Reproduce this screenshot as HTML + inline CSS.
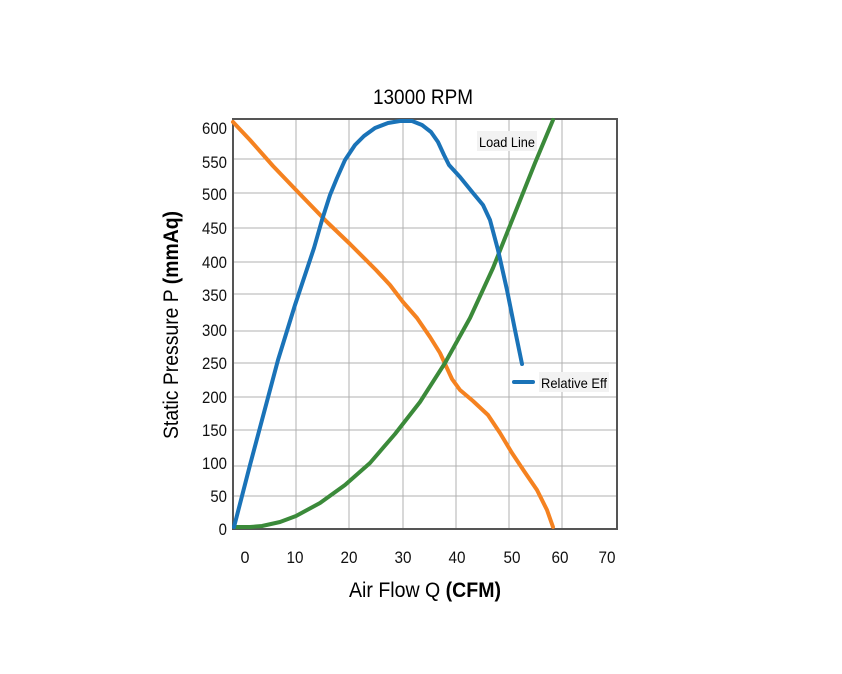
<!DOCTYPE html>
<html><head><style>body{margin:0;background:#fff}svg{display:block}</style></head><body>
<svg width="842" height="674" xmlns="http://www.w3.org/2000/svg" font-family="Liberation Sans, sans-serif">
<rect width="842" height="674" fill="#fff"/>
<g stroke="#b0b0b0" stroke-width="1">
<line x1="296" y1="119" x2="296" y2="529"/><line x1="349" y1="119" x2="349" y2="529"/><line x1="403" y1="119" x2="403" y2="529"/><line x1="456" y1="119" x2="456" y2="529"/><line x1="509" y1="119" x2="509" y2="529"/><line x1="562" y1="119" x2="562" y2="529"/>
<line x1="233" y1="159" x2="617" y2="159"/><line x1="233" y1="193" x2="617" y2="193"/><line x1="233" y1="228" x2="617" y2="228"/><line x1="233" y1="262" x2="617" y2="262"/><line x1="233" y1="294" x2="617" y2="294"/><line x1="233" y1="331" x2="617" y2="331"/><line x1="233" y1="363" x2="617" y2="363"/><line x1="233" y1="397" x2="617" y2="397"/><line x1="233" y1="430" x2="617" y2="430"/><line x1="233" y1="466" x2="617" y2="466"/><line x1="233" y1="496" x2="617" y2="496"/>
</g>
<rect x="233" y="119" width="384" height="410" fill="none" stroke="#555" stroke-width="2"/>
<g font-size="17" fill="#111" text-anchor="end" transform="translate(227,0) scale(0.88,1)">
<text x="0" y="134">600</text><text x="0" y="168">550</text><text x="0" y="200">500</text><text x="0" y="234">450</text><text x="0" y="268">400</text><text x="0" y="301">350</text><text x="0" y="336">300</text><text x="0" y="369">250</text><text x="0" y="403">200</text><text x="0" y="436">150</text><text x="0" y="469">100</text><text x="0" y="502">50</text><text x="0" y="535">0</text>
</g>
<g font-size="17" fill="#111" text-anchor="middle">
<text x="245" y="563" textLength="9" lengthAdjust="spacingAndGlyphs">0</text><text x="295" y="563" textLength="17" lengthAdjust="spacingAndGlyphs">10</text><text x="349" y="563" textLength="17" lengthAdjust="spacingAndGlyphs">20</text><text x="403" y="563" textLength="17" lengthAdjust="spacingAndGlyphs">30</text><text x="457" y="563" textLength="17" lengthAdjust="spacingAndGlyphs">40</text><text x="512" y="563" textLength="17" lengthAdjust="spacingAndGlyphs">50</text><text x="560" y="563" textLength="17" lengthAdjust="spacingAndGlyphs">60</text><text x="607" y="563" textLength="17" lengthAdjust="spacingAndGlyphs">70</text>
</g>
<text x="423" y="104" font-size="21" text-anchor="middle" textLength="100" lengthAdjust="spacingAndGlyphs">13000 RPM</text>
<text x="425" y="597" font-size="21" text-anchor="middle" textLength="152" lengthAdjust="spacingAndGlyphs">Air Flow Q <tspan font-weight="bold">(CFM)</tspan></text>
<text transform="translate(178,325) rotate(-90)" font-size="21" text-anchor="middle" textLength="228" lengthAdjust="spacingAndGlyphs">Static Pressure P <tspan font-weight="bold">(mmAq)</tspan></text>
<g fill="none" stroke-width="4" stroke-linejoin="round" stroke-linecap="round">
<polyline stroke="#f58220" points="233,122 250,140 273,166 296,190 327,222 350,244 376,270 390,285 403,302 417,318 430,337 440,353 446,366 452,379 460,390 473,401 488,415 500,433 512,453 524,471 537,490 547,510 553,527"/>
<polyline stroke="#3b8a3a" points="234,527 250,527 262,526 280,522 296,516 320,503 345,485 370,463 395,434 420,402 445,363 470,318 493,268 515,213 535,163 553,120"/>
<polyline stroke="#1a73b8" points="234,527 250,465 262,420 278,360 295,305 306,272 314,248 322,220 330,195 337,178 345,160 355,145 364,136 375,128 388,123 400,121 412,121 422,125 431,132 438,142 444,155 449,165 460,177 473,193 483,205 490,220 498,250 507,290 515,330 522,364"/>
<line x1="514" y1="382" x2="533" y2="382" stroke="#1a73b8"/>
</g>
<rect x="477" y="131" width="60" height="20" fill="#f2f2f2"/>
<text x="479" y="147" font-size="14" textLength="56" lengthAdjust="spacingAndGlyphs">Load Line</text>
<rect x="539" y="372" width="70" height="20" fill="#f2f2f2"/>
<text x="541" y="388" font-size="14" textLength="66" lengthAdjust="spacingAndGlyphs">Relative Eff</text>
</svg>
</body></html>
